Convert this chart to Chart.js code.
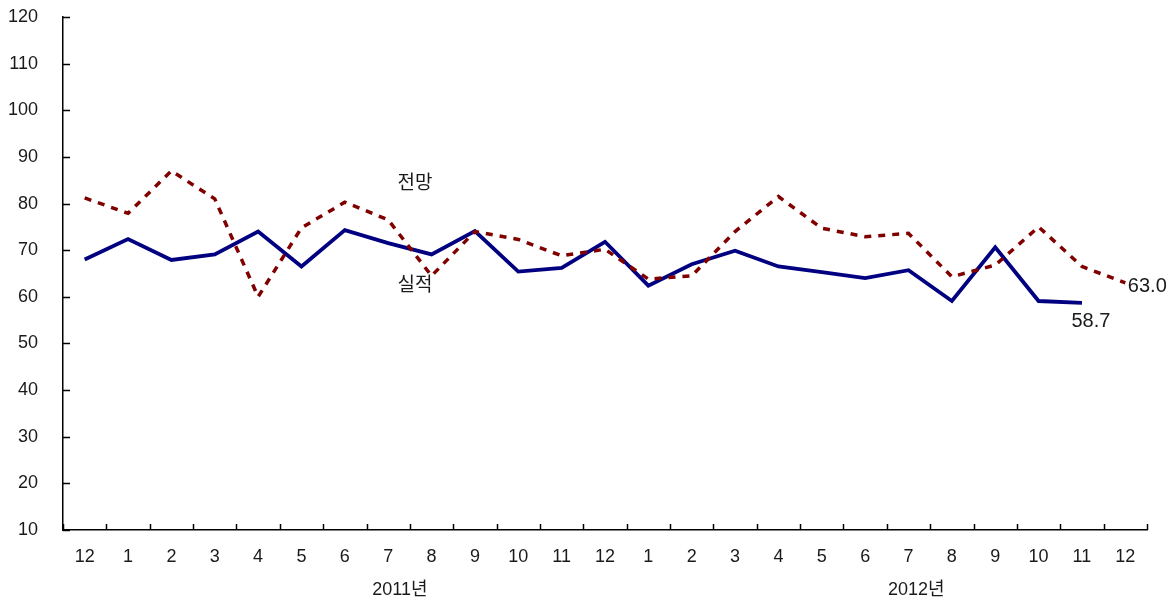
<!DOCTYPE html>
<html>
<head>
<meta charset="utf-8">
<style>
  html, body { margin: 0; padding: 0; background: #ffffff; }
  #wrap { width: 1176px; height: 602px; }
</style>
<script src="https://cdn.jsdelivr.net/npm/chart.js@4/dist/chart.umd.min.js"></script>
</head>
<body>
<div id="wrap"><canvas id="c" width="1176" height="602"></canvas></div>
<script>
// Monthly categories, Dec 2010 through Dec 2012
const months = ['12', '1', '2', '3', '4', '5', '6', '7', '8', '9', '10', '11',
                '12', '1', '2', '3', '4', '5', '6', '7', '8', '9', '10', '11', '12'];

// 실적 (actual) — no figure yet for the last month
const actual = [68.0, 72.4, 67.9, 69.1, 74.0, 66.5, 74.3, 71.5, 69.1, 74.1, 65.4, 66.2,
                71.8, 62.4, 67.0, 69.9, 66.5, 65.3, 64.0, 65.7, 59.1, 70.6, 59.1, 58.7, null];

// 전망 (outlook)
const outlook = [81.2, 77.9, 87.0, 81.0, 60.0, 74.8, 80.3, 76.5, 64.5, 74.0, 72.3, 68.8,
                 70.2, 63.8, 64.5, 74.0, 81.5, 74.7, 72.9, 73.6, 64.3, 66.8, 75.0, 66.5, 63.0];

const seriesNames = ['실적', '전망'];
const yearLabels = ['2011년', '2012년'];
const yearLabelSlots = [7.27, 19.18];   // category position of each year caption

const FONT = "'Liberation Sans', 'Noto Sans CJK KR', sans-serif";
const TEXT = '#1a1a1a';

// Short tick marks pointing into the plot, plus captions and end-point values
const decorations = {
  id: 'decorations',
  afterDraw(chart) {
    const { ctx, chartArea, scales: { x, y } } = chart;
    ctx.save();
    ctx.strokeStyle = '#000';
    ctx.lineWidth = 1.5;
    ctx.beginPath();
    y.ticks.forEach((t, i) => {
      const py = Math.round(y.getPixelForTick(i)) + 0.5;
      ctx.moveTo(chartArea.left, py);
      ctx.lineTo(chartArea.left + 7, py);
    });
    for (let i = 0; i <= months.length; i++) {
      const px = Math.round(x.getPixelForValue(i - 0.5)) + 0.5;
      ctx.moveTo(px, chartArea.bottom);
      ctx.lineTo(px, chartArea.bottom - 6);
    }
    ctx.stroke();

    ctx.fillStyle = TEXT;
    ctx.textAlign = 'center';
    ctx.textBaseline = 'middle';

    // year captions under the month labels
    ctx.font = '18px ' + FONT;
    yearLabels.forEach((txt, i) => {
      ctx.fillText(txt, x.getPixelForValue(yearLabelSlots[i]), chartArea.bottom + 60);
    });

    // series names next to their lines
    ctx.font = '19px ' + FONT;
    ctx.fillText(seriesNames[1], x.getPixelForValue(7.62), y.getPixelForValue(84.2));
    ctx.fillText(seriesNames[0], x.getPixelForValue(7.62), y.getPixelForValue(62.4));

    // last available value of each series
    ctx.font = '20px ' + FONT;
    const lastA = actual.reduce((k, v, i) => (v !== null ? i : k), 0);
    const lastO = outlook.length - 1;
    ctx.fillText(actual[lastA].toFixed(1), x.getPixelForValue(lastA) + 9, y.getPixelForValue(actual[lastA]) + 19);
    ctx.fillText(outlook[lastO].toFixed(1), x.getPixelForValue(lastO) + 22, y.getPixelForValue(outlook[lastO]) + 4);
    ctx.restore();
  }
};

const chart = new Chart(document.getElementById('c'), {
  type: 'line',
  data: {
    labels: months,
    datasets: [
      {
        label: seriesNames[1],
        data: outlook,
        borderColor: '#800000',
        borderWidth: 3.5,
        borderDash: [7, 7],
        borderCapStyle: 'butt',
        pointRadius: 0,
        tension: 0,
        fill: false
      },
      {
        label: seriesNames[0],
        data: actual,
        borderColor: '#000080',
        borderWidth: 3.8,
        pointRadius: 0,
        tension: 0,
        fill: false,
        spanGaps: false
      }
    ]
  },
  options: {
    responsive: false,
    animation: false,
    devicePixelRatio: 1,
    layout: { padding: { left: 0, top: 17, right: 29, bottom: 0 } },
    plugins: {
      legend: { display: false },
      tooltip: { enabled: false }
    },
    scales: {
      x: {
        type: 'category',
        offset: true,
        grid: { display: true, drawOnChartArea: false, drawTicks: false, offset: true },
        border: { display: true, color: '#000', width: 1.5 },
        ticks: {
          autoSkip: false, maxRotation: 0, padding: 16,
          color: TEXT, font: { family: FONT, size: 18 }
        },
        afterFit(scale) {
          scale.height = 72;
          scale.paddingLeft = 0;
          scale.paddingRight = 0;
        }
      },
      y: {
        min: 10,
        max: 120,
        grid: { display: true, drawOnChartArea: false, drawTicks: false },
        border: { display: true, color: '#000', width: 1.5 },
        ticks: {
          stepSize: 10, padding: 25,
          color: TEXT, font: { family: FONT, size: 18 }
        },
        afterFit(scale) {
          scale.width = 63;
          scale.paddingTop = 0;
          scale.paddingBottom = 0;
        }
      }
    }
  },
  plugins: [decorations]
});
</script>
</body>
</html>
